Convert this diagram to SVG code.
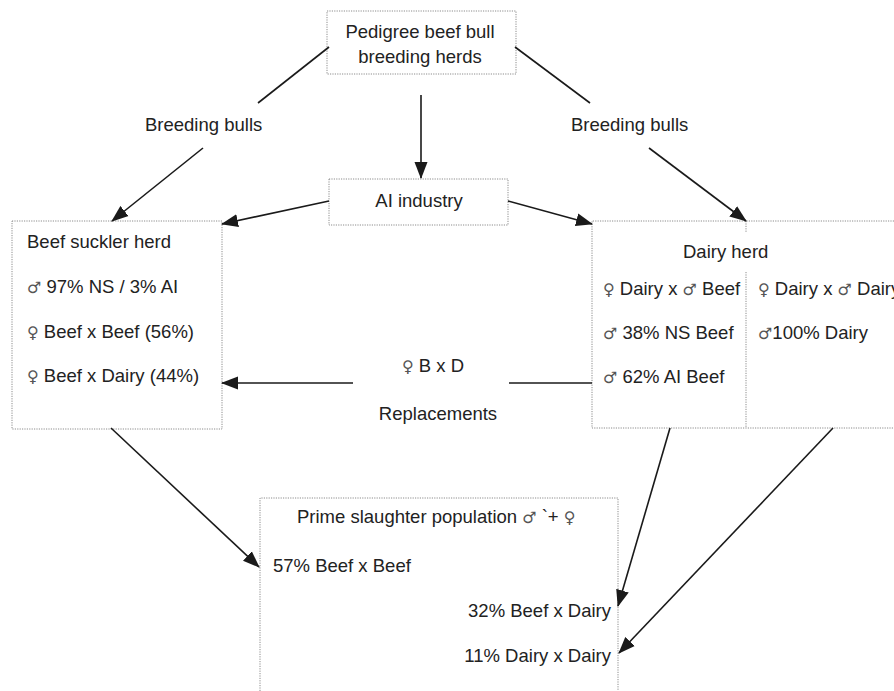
<svg xmlns="http://www.w3.org/2000/svg" width="894" height="691" viewBox="0 0 894 691">
<style>
.box{fill:none;stroke:#8c8c8c;stroke-width:1;stroke-dasharray:1.2,1.2}
.t{font-family:"Liberation Sans",Arial,sans-serif;font-size:18.5px;fill:#222}
.c{text-anchor:middle}
.r{text-anchor:end}
.s{font-family:"DejaVu Sans",sans-serif;font-size:16px;fill:#555}
.ln{stroke:#1a1a1a;stroke-width:1.6;fill:none}
.ar{stroke:#1a1a1a;stroke-width:1.6;fill:none;marker-end:url(#ah)}
</style>
<defs>
<marker id="ah" markerUnits="userSpaceOnUse" markerWidth="17" markerHeight="14" viewBox="0 0 17 14" refX="16" refY="7" orient="auto">
<path d="M0,0.5 L17,7 L0,13.5 Z" fill="#1a1a1a"/>
</marker>
</defs>
<rect width="894" height="691" fill="#fff"/>
<g id="pedigree">
<rect class="box" x="327" y="11" width="189" height="63"/>
<text class="t c" x="420" y="38">Pedigree beef bull</text>
<text class="t c" x="420" y="63">breeding herds</text>
</g>
<g id="ai">
<rect class="box" x="329" y="179" width="179" height="46"/>
<text class="t c" x="419" y="207">AI industry</text>
</g>
<g id="suckler">
<rect class="box" x="12" y="221" width="210" height="208"/>
<text class="t" x="27" y="248">Beef suckler herd</text>
<text class="t" x="27" y="293"><tspan class="s">♂</tspan> 97% NS / 3% AI</text>
<text class="t" x="27" y="338"><tspan class="s">♀</tspan> Beef x Beef (56%)</text>
<text class="t" x="27" y="382"><tspan class="s">♀</tspan> Beef x Dairy (44%)</text>
</g>
<g id="dairy">
<path class="box" d="M894,221 H592 V428 H894"/>
<path class="box" d="M746,221 V232 M746,272 V428"/>
<text class="t" x="683" y="258">Dairy herd</text>
<text class="t" x="603" y="295"><tspan class="s">♀</tspan> Dairy x <tspan class="s">♂</tspan> Beef</text>
<text class="t" x="603" y="339"><tspan class="s">♂</tspan> 38% NS Beef</text>
<text class="t" x="603" y="383"><tspan class="s">♂</tspan> 62% AI Beef</text>
<text class="t" x="758" y="295"><tspan class="s">♀</tspan> Dairy x <tspan class="s">♂</tspan> Dairy</text>
<text class="t" x="758" y="339"><tspan class="s">♂</tspan>100% Dairy</text>
</g>
<g id="prime">
<path class="box" d="M260,691 V498 H618 V691"/>
<text class="t" x="297" y="523">Prime slaughter population <tspan class="s">♂</tspan> `+ <tspan class="s">♀</tspan></text>
<text class="t" x="273" y="572">57% Beef x Beef</text>
<text class="t r" x="611" y="617">32% Beef x Dairy</text>
<text class="t r" x="611" y="662">11% Dairy x Dairy</text>
</g>
<g id="connectors">
<line class="ln" x1="329" y1="47" x2="258" y2="103"/>
<line class="ar" x1="203" y1="148" x2="112" y2="221"/>
<text class="t" x="145" y="131">Breeding bulls</text>
<line class="ln" x1="515" y1="47" x2="590" y2="103"/>
<line class="ar" x1="649" y1="148" x2="746" y2="221"/>
<text class="t" x="571" y="131">Breeding bulls</text>
<line class="ar" x1="421" y1="95" x2="421" y2="178"/>
<line class="ar" x1="329" y1="201" x2="222" y2="224"/>
<line class="ar" x1="508" y1="201" x2="592" y2="224"/>
<line class="ln" x1="592" y1="383" x2="509" y2="383"/>
<line class="ar" x1="353" y1="383" x2="222" y2="383"/>
<text class="t" x="402" y="372"><tspan class="s">♀</tspan> B x D</text>
<text class="t c" x="438" y="420">Replacements</text>
<line class="ar" x1="111" y1="428" x2="259" y2="567"/>
<line class="ar" x1="670" y1="428" x2="618" y2="606"/>
<line class="ar" x1="833" y1="428" x2="619" y2="653"/>
</g>
</svg>
